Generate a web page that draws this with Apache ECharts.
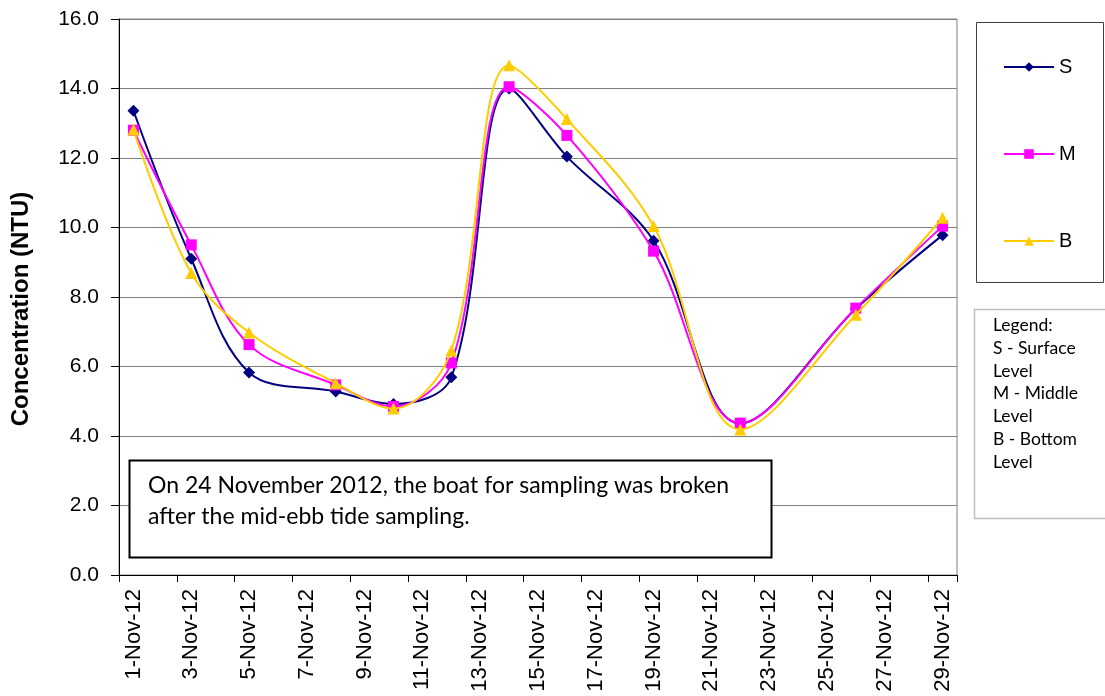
<!DOCTYPE html>
<html>
<head>
<meta charset="utf-8">
<script src="https://cdn.jsdelivr.net/npm/echarts@6/dist/echarts.min.js"></script>
<style>
html,body{margin:0;padding:0;background:#fff;}
#chart{width:1105px;height:696px;}
</style>
</head>
<body>
<div id="chart"></div>
<script>
// Axis categories (one per day, labels shown every other day)
const dayLabels = ['1-Nov-12','2-Nov-12','3-Nov-12','4-Nov-12','5-Nov-12','6-Nov-12','7-Nov-12','8-Nov-12','9-Nov-12','10-Nov-12',
  '11-Nov-12','12-Nov-12','13-Nov-12','14-Nov-12','15-Nov-12','16-Nov-12','17-Nov-12','18-Nov-12','19-Nov-12','20-Nov-12',
  '21-Nov-12','22-Nov-12','23-Nov-12','24-Nov-12','25-Nov-12','26-Nov-12','27-Nov-12','28-Nov-12','29-Nov-12'];
// Sampling dates
const sampleDates = ['1-Nov-12','3-Nov-12','5-Nov-12','8-Nov-12','10-Nov-12','12-Nov-12','14-Nov-12','16-Nov-12','19-Nov-12','22-Nov-12','26-Nov-12','29-Nov-12'];
// Concentration (NTU)
const surface = [13.36, 9.10, 5.83, 5.28, 4.92, 5.69, 14.00, 12.04, 9.62, 4.36, 7.66, 9.78];
const middle  = [12.80, 9.50, 6.63, 5.47, 4.85, 6.10, 14.05, 12.65, 9.32, 4.37, 7.68, 10.04];
const bottom  = [12.82, 8.69, 6.98, 5.52, 4.79, 6.46, 14.67, 13.12, 10.04, 4.19, 7.49, 10.28];
const yTicks = [0, 2, 4, 6, 8, 10, 12, 14, 16];

const pairs = vals => sampleDates.map((d, i) => [d, vals[i]]);

const chart = echarts.init(document.getElementById('chart'), null, {renderer: 'canvas'});
const lab = {fontFamily: 'Liberation Sans, Arial, sans-serif', color: '#000'};
const calib = 'Lato, Carlito, Calibri, sans-serif';
const SM = 0.35;

chart.setOption({
  animation: false,
  backgroundColor: '#fff',
  grid: {left: 119, right: 148, top: 19, bottom: 121, show: true, borderColor: '#808080', borderWidth: 1, backgroundColor: 'transparent'},
  xAxis: {
    type: 'category', data: dayLabels, boundaryGap: true,
    axisLine: {lineStyle: {color: '#000', width: 1}},
    axisTick: {show: true, interval: 1, length: 7, lineStyle: {color: '#000'}},
    axisLabel: Object.assign({interval: 1, rotate: 90, fontSize: 22, margin: 14}, lab),
    splitLine: {show: false}
  },
  yAxis: {
    type: 'value', min: yTicks[0], max: yTicks[yTicks.length - 1], interval: 2,
    axisLine: {show: true, lineStyle: {color: '#000', width: 1}},
    axisTick: {show: true, length: 8, lineStyle: {color: '#000'}},
    axisLabel: Object.assign({fontSize: 21, margin: 20, formatter: v => v.toFixed(1)}, lab),
    splitLine: {lineStyle: {color: '#808080', width: 1}}
  },
  legend: {
    orient: 'vertical', left: 1003, top: 57, padding: 0, itemWidth: 50, itemHeight: 12, itemGap: 67,
    textStyle: Object.assign({fontSize: 20}, lab),
    data: ['S', 'M', 'B']
  },
  graphic: [
    {type: 'rect', z: 10, shape: {x: 976.5, y: 22.5, width: 127, height: 260}, style: {fill: 'none', stroke: '#404040', lineWidth: 1}},
    {type: 'rect', z: 10, shape: {x: 974.5, y: 309.5, width: 140, height: 209}, style: {fill: '#fff', stroke: '#bfbfbf', lineWidth: 1.5}},
    {type: 'text', z: 11, x: 993, y: 314, style: {text: 'Legend:\nS - Surface\nLevel\nM - Middle\nLevel\nB - Bottom\nLevel', font: '17.5px ' + calib, fill: '#000', lineHeight: 22.8, verticalAlign: 'top'}},
    {type: 'rect', z: 10, shape: {x: 129.5, y: 460.5, width: 642, height: 97}, style: {fill: '#fff', stroke: '#000', lineWidth: 2}},
    {type: 'text', z: 11, x: 148, y: 470, style: {text: 'On 24 November 2012, the boat for sampling was broken\nafter the mid-ebb tide sampling.', font: '23px ' + calib, fill: '#000', lineHeight: 31, verticalAlign: 'top'}},
    {type: 'text', z: 11, x: 21, y: 309, rotation: Math.PI / 2, style: {text: 'Concentration (NTU)', font: 'bold 24px Liberation Sans, Arial, sans-serif', fill: '#000', align: 'center', verticalAlign: 'middle'}}
  ],
  series: [
    {name: 'S', type: 'line', data: pairs(surface), smooth: SM, symbol: 'diamond', symbolSize: 12,
     itemStyle: {color: '#000080'}, lineStyle: {color: '#000080', width: 2}, z: 3},
    {name: 'M', type: 'line', data: pairs(middle), smooth: SM, symbol: 'rect', symbolSize: 11,
     itemStyle: {color: '#FF00FF'}, lineStyle: {color: '#FF00FF', width: 2}, z: 4},
    {name: 'B', type: 'line', data: pairs(bottom), smooth: SM, symbol: 'triangle', symbolSize: 12,
     itemStyle: {color: '#FFCC00'}, lineStyle: {color: '#FFCC00', width: 2}, z: 5}
  ]
});
</script>
</body>
</html>
